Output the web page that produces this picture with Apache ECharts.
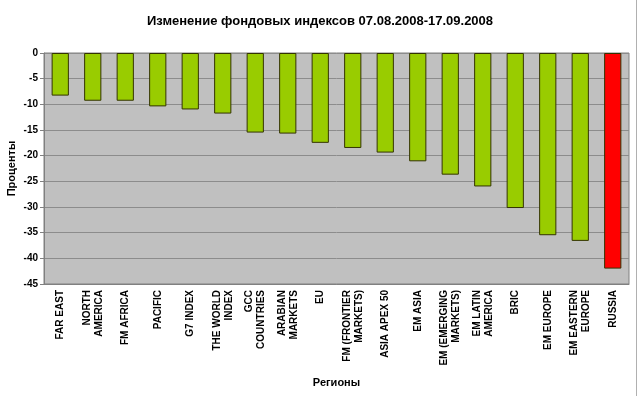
<!DOCTYPE html>
<html>
<head>
<meta charset="utf-8">
<script src="https://cdn.jsdelivr.net/npm/echarts@6/dist/echarts.min.js"></script>
<style>
  html, body { margin: 0; padding: 0; background: #fff; }
  #wrap { position: relative; width: 640px; height: 396px; }
  #wrap:after { content: ''; position: absolute; left: 636px; top: 0; width: 1px; height: 396px; background: #b0b0b0; }
  #chart { width: 640px; height: 396px; }
</style>
</head>
<body>
<div id="wrap"><div id="chart"></div></div>
<script>
var regions = [
  'FAR EAST', 'NORTH\nAMERICA', 'FM AFRICA', 'PACIFIC', 'G7 INDEX',
  'THE WORLD\nINDEX', 'GCC\nCOUNTRIES', 'ARABIAN\nMARKETS', 'EU',
  'FM (FRONTIER\nMARKETS)', 'ASIA APEX 50', 'EM ASIA', 'EM (EMERGING\nMARKETS)',
  'EM LATIN\nAMERICA', 'BRIC', 'EM EUROPE', 'EM EASTERN\nEUROPE', 'RUSSIA'
]
var changes = [
  -8.3, -9.3, -9.3, -10.4, -11.0, -11.8, -15.5, -15.7, -17.5,
  -18.5, -19.4, -21.1, -23.7, -26.0, -30.2, -35.5, -36.6, -42.0
]
var highlight = 'RUSSIA'

var chart = echarts.init(document.getElementById('chart'))
var font = 'Arial, "Liberation Sans", sans-serif'

var barData = changes.map(function (v, i) {
  if (regions[i] === highlight) {
    return { value: v, itemStyle: { color: '#ff0000' } }
  }
  return v
})

var option = {
  animation: false,
  title: {
    text: 'Изменение фондовых индексов 07.08.2008-17.09.2008',
    left: 'center',
    top: 10,
    textStyle: { fontFamily: font, fontSize: 13, fontWeight: 'bold', color: '#000' }
  },
  grid: {
    left: 44,
    right: 11,
    top: 53,
    bottom: 112,
    outerBoundsMode: 'none',
    show: true,
    backgroundColor: '#c0c0c0',
    borderColor: '#808080',
    borderWidth: 1
  },
  xAxis: {
    type: 'category',
    data: regions,
    position: 'bottom',
    name: 'Регионы',
    nameLocation: 'middle',
    nameGap: 93,
    nameMoveOverlap: false,
    nameTextStyle: { fontFamily: font, fontSize: 11, fontWeight: 'bold', color: '#000' },
    axisLine: { onZero: false, lineStyle: { color: '#808080' } },
    axisTick: { show: false },
    axisLabel: {
      interval: 0,
      rotate: 90,
      margin: 6,
      fontFamily: font,
      fontSize: 10,
      fontWeight: 'bold',
      color: '#000',
      lineHeight: 12
    }
  },
  yAxis: {
    type: 'value',
    min: -45,
    max: 0,
    interval: 5,
    name: 'Проценты',
    nameLocation: 'middle',
    nameRotate: 90,
    nameGap: 27,
    nameMoveOverlap: false,
    nameTextStyle: { fontFamily: font, fontSize: 11, fontWeight: 'bold', color: '#000' },
    axisLine: { show: true, lineStyle: { color: '#808080' } },
    axisTick: { show: true, length: 4, lineStyle: { color: '#808080' } },
    axisLabel: { fontFamily: font, fontSize: 10, fontWeight: 'bold', color: '#000', margin: 6 },
    splitLine: { lineStyle: { color: '#8c8c8c', width: 1 } }
  },
  series: [
    {
      type: 'bar',
      data: barData,
      barWidth: '53%',
      itemStyle: { color: '#99cc00', borderColor: '#333300', borderWidth: 1 }
    }
  ]
}
chart.setOption(option)
</script>
</body>
</html>
